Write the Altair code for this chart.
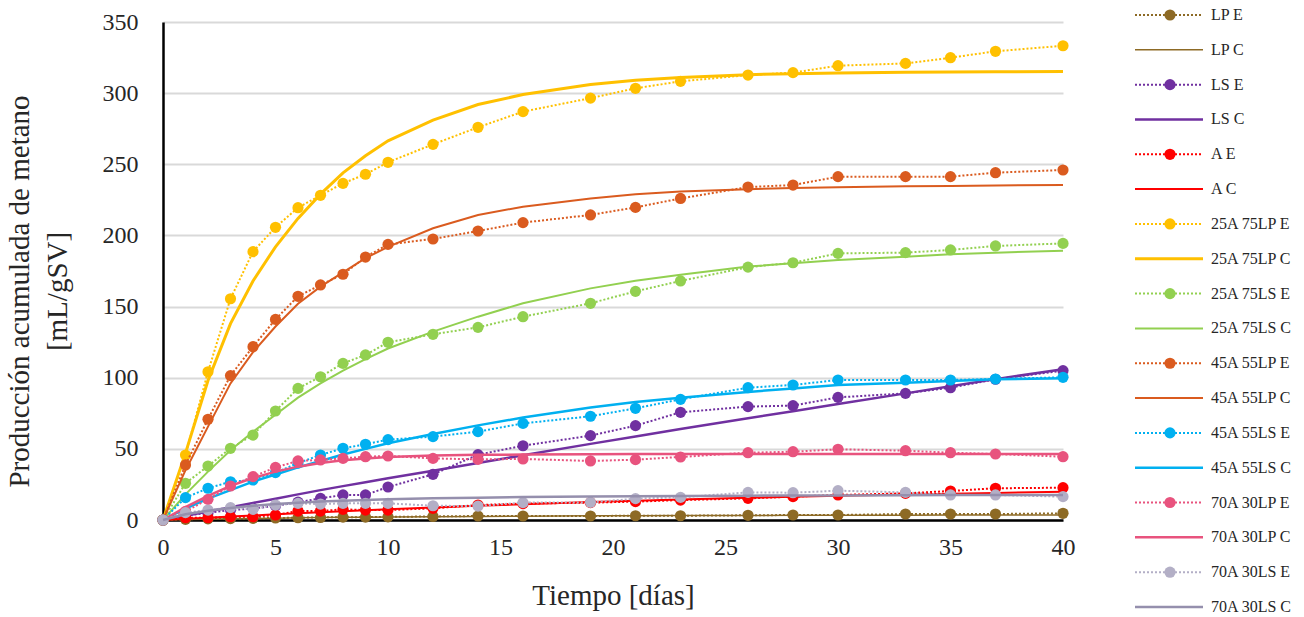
import altair as alt
import pandas as pd

FONT = "Liberation Serif"

# Tiempo de muestreo [días]
dias = [0, 1, 2, 3, 4, 5, 6, 7, 8, 9, 10, 12, 14, 16, 19, 21, 23, 26, 28, 30, 33, 35, 37, 40]

# Producción acumulada de metano [mL/gSV]: E = experimental, C = calculada
lp_e = [0, 0.5, 0.8, 1, 1.2, 1.4, 1.6, 1.8, 2, 2, 2.2, 2.5, 2.8, 2.8, 2.8, 3, 3, 3.3, 3.5, 3.5, 4.2, 4.2, 4.2, 4.7]
lp_c = [0, 0.3, 0.6, 0.9, 1.1, 1.3, 1.5, 1.7, 1.9, 2, 2.1, 2.3, 2.5, 2.7, 2.9, 3, 3.1, 3.2, 3.3, 3.35, 3.4, 3.45, 3.5, 3.5]
ls_e = [0, 3, 5, 7, 8, 10, 12.5, 15.2, 17.6, 17.6, 23.2, 32.1, 45.9, 52.2, 59.3, 66.3, 75.7, 79.7, 80.4, 86.2, 89, 93, 98.9, 105]
ls_c = [0, 3, 6, 9, 12, 15, 18, 21, 23.8, 26.6, 29.4, 34.6, 40, 45.5, 53.5, 58.7, 64, 71.5, 76.5, 81.5, 89, 94, 99, 106]
a_e = [0, 1.6, 1.6, 2.3, 2.3, 3.5, 6.3, 6.3, 7.5, 7, 7, 8.2, 10.5, 11.5, 12.2, 12.9, 14, 15.2, 16.4, 17.6, 18.7, 20.4, 22.3, 22.7]
a_c = [0, 0.8, 1.6, 2.4, 3.2, 4, 4.8, 5.5, 6.2, 6.9, 7.5, 8.8, 10, 11.1, 12.6, 13.5, 14.4, 15.6, 16.3, 17, 17.9, 18.5, 19, 19.8]
a25_lp75_e = [0, 45.7, 104.2, 155.5, 188.6, 205.7, 219.5, 228.2, 236.6, 243, 251.4, 264, 276, 287, 296.5, 303.4, 308.3, 312.7, 314.4, 319.3, 320.9, 324.9, 329.4, 333.3]
a25_lp75_c = [0, 47, 98, 138, 168, 192, 212, 229, 244, 256, 266.5, 281, 292, 299, 306, 309, 311, 313, 313.7, 314.2, 314.6, 314.8, 315, 315.2]
a25_ls75_e = [0, 25.8, 37.9, 50.4, 59.7, 76.6, 92.5, 100.7, 110.1, 116, 124.9, 130.5, 135.4, 142.9, 152.3, 160.7, 168, 177.7, 180.8, 187.4, 187.9, 189.8, 192.6, 194.4]
a25_ls75_c = [0, 18, 34, 49, 62, 74, 86, 96, 105, 113, 120.5, 132.4, 142.9, 152.3, 162.8, 168.2, 172.4, 178.1, 180.4, 182.7, 185, 186.7, 187.9, 189.3]
a45_lp55_e = [0, 38.7, 70.8, 101.5, 121.8, 141, 157.2, 165.2, 172.7, 184.8, 193.7, 197.5, 203.1, 209, 214.4, 219.7, 226, 234, 235.4, 241.3, 241.3, 241.3, 244.1, 246]
a45_lp55_c = [0, 35, 65.6, 96, 118, 136, 152, 164, 174, 184, 192, 205, 214.4, 220.2, 226, 229, 230.8, 232.5, 233.3, 233.9, 234.5, 234.8, 235.1, 235.4]
a45_ls55_e = [0, 15.7, 22.3, 26.9, 28.1, 33.3, 40, 45.7, 50.4, 53.2, 56.5, 58.6, 62.1, 67.9, 72.9, 78.5, 84.8, 93, 94.9, 98.4, 98.4, 98.4, 99.1, 100.3]
a45_ls55_c = [0, 8, 15, 21, 27, 32, 37, 41.5, 46, 50, 54, 60.5, 66.5, 72, 79, 83, 86, 90, 92.5, 94.9, 96.5, 97.7, 98.9, 99.6]
a70_lp30_e = [0, 6, 14.5, 23.9, 30.5, 37, 41.5, 42.2, 43.3, 44.5, 45, 43.3, 42.6, 42.9, 41.5, 42.4, 44.3, 47.3, 48, 49.7, 48.7, 47.3, 46.4, 44.5]
a70_lp30_c = [0, 9, 17, 24, 29.5, 34, 37.5, 40, 42, 43.3, 44.2, 45.3, 45.8, 46, 46.2, 46.3, 46.3, 46.4, 46.4, 46.4, 46.4, 46.4, 46.4, 46.4]
a70_ls30_e = [0, 5.2, 7, 8.7, 7.5, 10.5, 11.7, 11.2, 11.7, 11.7, 11.7, 10, 9.8, 12.2, 12.4, 15, 15.9, 19.4, 19.2, 20.6, 19.4, 17.6, 17.6, 16.4]
a70_ls30_c = [0, 4, 6.5, 8.5, 10, 11.2, 12.2, 13, 13.6, 14.1, 14.5, 15.2, 15.7, 16.1, 16.5, 16.7, 16.9, 17.1, 17.2, 17.3, 17.4, 17.5, 17.5, 17.5]

# (nombre, valores, color, tipo, grosor de línea)
series = [
    ("LP E", lp_e, "#8D6A25", "E", 2),
    ("LP C", lp_c, "#8D6A25", "C", 1.5),
    ("LS E", ls_e, "#7030A0", "E", 2),
    ("LS C", ls_c, "#7030A0", "C", 2.5),
    ("A E", a_e, "#FF0000", "E", 2),
    ("A C", a_c, "#FF0000", "C", 2),
    ("25A 75LP E", a25_lp75_e, "#FFC000", "E", 2),
    ("25A 75LP C", a25_lp75_c, "#FFC000", "C", 3),
    ("25A 75LS E", a25_ls75_e, "#92D050", "E", 2),
    ("25A 75LS C", a25_ls75_c, "#92D050", "C", 2),
    ("45A 55LP E", a45_lp55_e, "#DA5B1F", "E", 2),
    ("45A 55LP C", a45_lp55_c, "#DA5B1F", "C", 2),
    ("45A 55LS E", a45_ls55_e, "#00B0F0", "E", 2),
    ("45A 55LS C", a45_ls55_c, "#00B0F0", "C", 2.5),
    ("70A 30LP E", a70_lp30_e, "#E8537E", "E", 2),
    ("70A 30LP C", a70_lp30_c, "#E8537E", "C", 2.5),
    ("70A 30LS E", a70_ls30_e, "#B3AFC6", "E", 2),
    ("70A 30LS C", a70_ls30_c, "#958FAD", "C", 2.5),
]

DOT = [2, 2]

x_enc = alt.X(
    "dia:Q",
    scale=alt.Scale(domain=[0, 40], nice=False),
    axis=alt.Axis(
        values=list(range(0, 41, 5)), grid=False, ticks=False, labelFlush=False,
        domainColor="black", domainWidth=2.5,
        labelFont=FONT, labelFontSize=24, labelColor="#262626", labelPadding=15,
        title="Tiempo [días]", titleFont=FONT, titleFontSize=29,
        titleFontWeight="normal", titleColor="#262626",
        titleX=450, titleY=75, titleBaseline="middle",
    ),
)
y_enc = alt.Y(
    "valor:Q",
    scale=alt.Scale(domain=[0, 350], nice=False),
    axis=alt.Axis(
        values=list(range(0, 351, 50)), grid=True, gridColor="#D9D9D9", gridWidth=2,
        ticks=False, labelFlush=False, domainColor="black", domainWidth=2.5,
        labelFont=FONT, labelFontSize=24, labelColor="#262626", labelPadding=25,
        title=["Producción acumulada de metano", "[mL/gSV]"],
        titleFont=FONT, titleFontSize=29, titleFontWeight="normal", titleColor="#262626",
        titleLineHeight=38, titleX=-158, titleY=269, titleAngle=-90,
        titleAlign="center", titleBaseline="top",
    ),
)

capas = []
for nombre, valores, color, tipo, grosor in series:
    df = pd.DataFrame({"dia": dias, "valor": valores})
    base = alt.Chart(df).encode(x=x_enc, y=y_enc)
    if tipo == "E":
        capas.append(base.mark_line(color=color, strokeWidth=grosor, strokeDash=DOT))
        capas.append(base.mark_circle(color=color, size=125, opacity=1))
    else:
        capas.append(base.mark_line(color=color, strokeWidth=grosor))

datos = alt.layer(*capas)

# Leyenda a la derecha del área de trazado
leyenda = pd.DataFrame({
    "fila": list(range(len(series))),
    "nombre": [s[0] for s in series],
    "color": [s[2] for s in series],
    "tipo": [s[3] for s in series],
    "grosor": [s[4] for s in series],
})
fila_y = alt.Y("fila:Q", scale=alt.Scale(domain=[0, 17], range=[-7, 585]), axis=None)
ley_base = alt.Chart(leyenda).encode(y=fila_y)

ley_lineas = ley_base.mark_rule().encode(
    x=alt.value(972), x2=alt.value(1040),
    color=alt.Color("color:N", scale=None),
    strokeWidth=alt.StrokeWidth("grosor:Q", scale=None),
    strokeDash=alt.StrokeDash("tipo:N", scale=alt.Scale(domain=["E", "C"], range=[DOT, [1, 0]]), legend=None),
)
ley_puntos = ley_base.transform_filter(alt.datum.tipo == "E").mark_circle(size=125, opacity=1).encode(
    x=alt.value(1007),
    color=alt.Color("color:N", scale=None),
)
ley_texto = ley_base.mark_text(
    align="left", baseline="middle", font=FONT, fontSize=16, color="#262626"
).encode(x=alt.value(1048), text="nombre:N")

chart = alt.layer(datos, ley_lineas, ley_puntos, ley_texto).resolve_scale(
    y="independent"
).properties(
    width=900,
    height=498,
    padding={"left": 163, "top": 22, "right": 241, "bottom": 97},
    autosize=alt.AutoSizeParams(type="none"),
    background="white",
).configure_view(stroke=None)

chart.save("out.html", embed_options={"renderer": "svg", "actions": False})
